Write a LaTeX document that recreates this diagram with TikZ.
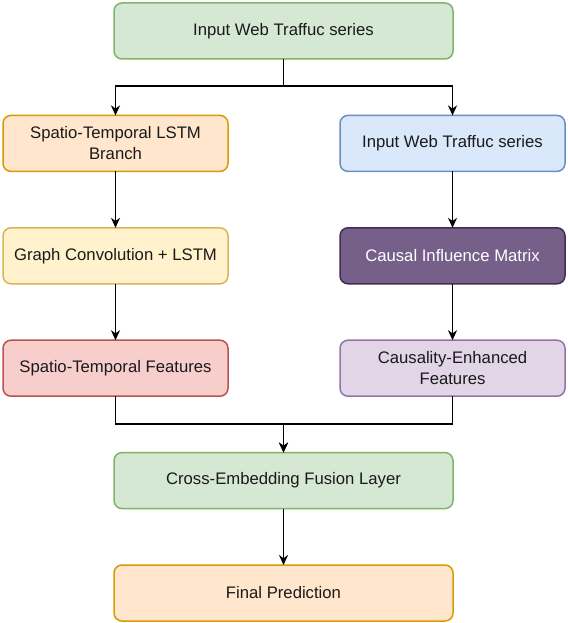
\documentclass[tikz,border=0pt]{standalone}
\usepackage{fontspec}
\setmainfont{Liberation Sans}
\usepackage{xcolor}
\usepackage{tikz}
\usetikzlibrary{arrows.meta, positioning}
\definecolor{greenfill}{HTML}{D5E8D4}
\definecolor{greenline}{HTML}{82B366}
\definecolor{orangefill}{HTML}{FFE6CC}
\definecolor{orangeline}{HTML}{D79B00}
\definecolor{bluefill}{HTML}{DAE8FC}
\definecolor{blueline}{HTML}{6C8EBF}
\definecolor{yellowfill}{HTML}{FFF2CC}
\definecolor{yellowline}{HTML}{D6B656}
\definecolor{redfill}{HTML}{F8CECC}
\definecolor{redline}{HTML}{B85450}
\definecolor{purplefill}{HTML}{E1D5E7}
\definecolor{purpleline}{HTML}{9673A6}
\definecolor{darkfill}{HTML}{76608A}
\definecolor{darkline}{HTML}{432D57}
\definecolor{textgray}{HTML}{1A1A1A}
\newcommand{\boxfont}{\fontsize{16.7pt}{21pt}\selectfont}
\tikzset{
    block/.style={rectangle, draw, line width=1.5pt, outer sep=0pt, rounded corners=8pt, align=center, minimum height=56pt, text=textgray, font=\boxfont},
    wideblock/.style={block, minimum width=339pt},
    sideblock/.style={block, minimum width=225pt},
    greenblock/.style={fill=greenfill, draw=greenline},
    orangeblock/.style={fill=orangefill, draw=orangeline},
    blueblock/.style={fill=bluefill, draw=blueline},
    yellowblock/.style={fill=yellowfill, draw=yellowline},
    redblock/.style={fill=redfill, draw=redline},
    purpleblock/.style={fill=purplefill, draw=purpleline},
    darkblock/.style={fill=darkfill, draw=darkline, text=white},
    arrow/.style={-{Stealth[length=10pt, width=9pt]}, line width=1.7pt},
}
\begin{document}
\begin{tikzpicture}[node distance=56.4pt]
    \useasboundingbox (0,0) rectangle (567pt,-623pt);

    % INPUT
    \node[wideblock, greenblock] (input) at (283.5pt,-31pt) {Input Web Traffuc series};

    % LEFT BRANCH
    \node[sideblock, orangeblock, below=of input, xshift=-168pt] (stlstm) {Spatio-Temporal LSTM\\Branch};
    \node[sideblock, yellowblock, below=of stlstm] (graphconv) {Graph Convolution + LSTM};
    \node[sideblock, redblock, below=of graphconv] (stfeat) {Spatio-Temporal Features};

    % RIGHT BRANCH
    \node[sideblock, blueblock, below=of input, xshift=169pt] (rinput) {Input Web Traffuc series};
    \node[sideblock, darkblock, below=of rinput] (causal) {Causal Influence Matrix};
    \node[sideblock, purpleblock, below=of causal] (cefeat) {Causality-Enhanced\\Features};

    % FUSION + OUTPUT
    \node[wideblock, greenblock, below=of stfeat.south -| input] (fusion) {Cross-Embedding Fusion Layer};
    \node[wideblock, orangeblock, below=of fusion] (final) {Final Prediction};

    % Arrows
    \draw[arrow] (input.south) -- ++(0,-27pt) -| (stlstm);
    \draw[arrow] (input.south) -- ++(0,-27pt) -| (rinput);
    \draw[arrow] (stlstm) -- (graphconv);
    \draw[arrow] (graphconv) -- (stfeat);
    \draw[arrow] (rinput) -- (causal);
    \draw[arrow] (causal) -- (cefeat);
    \draw[arrow] (stfeat.south) -- ++(0,-28pt) -| (fusion);
    \draw[arrow] (cefeat.south) -- ++(0,-28pt) -| (fusion);
    \draw[arrow] (fusion) -- (final);

\end{tikzpicture}
\end{document}
